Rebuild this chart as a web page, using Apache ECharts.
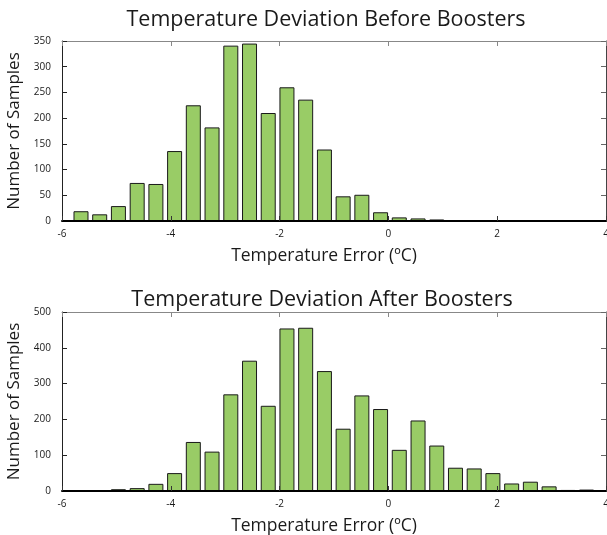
<!DOCTYPE html>
<html>
<head>
<meta charset="utf-8">
<script src="https://cdn.jsdelivr.net/npm/echarts@6/dist/echarts.min.js"></script>
<style>html,body{margin:0;padding:0;background:#fff}#c{width:607px;height:535px}</style>
</head>
<body>
<div id="c"></div>
<script>
var binCenters = [-5.651, -5.307, -4.963, -4.618, -4.274, -3.930, -3.586, -3.242, -2.897, -2.553,
  -2.209, -1.865, -1.521, -1.176, -0.832, -0.488, -0.144, 0.200, 0.545, 0.889,
  1.233, 1.577, 1.921, 2.266, 2.610, 2.954, 3.298, 3.642];
var beforeCounts = [19, 13, 29, 74, 72, 136, 225, 182, 341, 345,
  210, 260, 236, 139, 48, 51, 17, 7, 5, 3,
  0, 0, 0, 0, 0, 0, 0, 0];
var afterCounts = [1, 2, 5, 8, 20, 50, 137, 110, 270, 364,
  238, 454, 456, 335, 174, 267, 229, 115, 197, 127,
  65, 63, 50, 21, 26, 13, 3, 4];
var xTicks = [-6, -4, -2, 0, 2, 4];
var titles = ['Temperature Deviation Before Boosters', 'Temperature Deviation After Boosters'];
var xName = 'Temperature Error (ºC)';
var yName = 'Number of Samples';

var FONT = '"Open Sans", "DejaVu Sans", sans-serif';
function pairs(vals) { return binCenters.map(function (c, i) { return [c, vals[i]]; }); }

var grids = [
  { left: 62, right: 1, top: 41, height: 180, containLabel: false, outerBoundsMode: 'none' },
  { left: 62, right: 1, top: 312, height: 179, containLabel: false, outerBoundsMode: 'none' }
];
var yMax = [350, 500], yInt = [50, 100];
var xAxes = [], yAxes = [], series = [];
for (var g = 0; g < 2; g++) {
  xAxes.push({
    type: 'value', gridIndex: g, min: -6, max: 4, interval: 2, position: 'bottom',
    name: xName, nameLocation: 'middle', nameGap: 26,
    nameTextStyle: { fontFamily: FONT, fontSize: 17.5, color: '#1a1a1a', padding: [0, 20, 0, 0] },
    axisLine: { show: true, onZero: false, lineStyle: { color: '#000', width: 2 } },
    axisTick: { show: true, inside: true, length: 5, lineStyle: { color: '#333' } },
    axisLabel: { fontFamily: FONT, fontSize: 10, color: '#1a1a1a', margin: 8,
      formatter: function (v) { return xTicks.indexOf(v) >= 0 ? String(v) : ''; } },
    splitLine: { show: false }, z: 5
  });
  xAxes.push({
    type: 'value', gridIndex: g, min: -6, max: 4, interval: 2, position: 'top',
    axisLine: { show: true, onZero: false, lineStyle: { color: '#888', width: 1 } },
    axisTick: { show: true, inside: true, length: 5, lineStyle: { color: '#888' } },
    axisLabel: { show: false }, splitLine: { show: false }
  });
  yAxes.push({
    type: 'value', gridIndex: g, min: 0, max: yMax[g], interval: yInt[g], position: 'left',
    name: yName, nameLocation: 'middle', nameGap: 30, nameRotate: 90,
    nameTextStyle: { fontFamily: FONT, fontSize: 17, color: '#1a1a1a' },
    axisLine: { show: true, onZero: false, lineStyle: { color: '#222', width: 1 } },
    axisTick: { show: true, inside: true, length: 5, lineStyle: { color: '#222' } },
    axisLabel: { fontFamily: FONT, fontSize: 10, color: '#1a1a1a', margin: 11 },
    splitLine: { show: false }
  });
  yAxes.push({
    type: 'value', gridIndex: g, min: 0, max: yMax[g], interval: yInt[g], position: 'right',
    axisLine: { show: true, onZero: false, lineStyle: { color: '#444', width: 1 } },
    axisTick: { show: true, inside: true, length: 5, lineStyle: { color: '#666' } },
    axisLabel: { show: false }, splitLine: { show: false }
  });
  series.push({
    type: 'bar', xAxisIndex: g * 2, yAxisIndex: g * 2, barWidth: 15,
    data: pairs(g === 0 ? beforeCounts : afterCounts),
    itemStyle: { color: '#99cc66', borderColor: '#1a1a1a', borderWidth: 1 },
    silent: true, animation: false
  });
}

var chart = echarts.init(document.getElementById('c'));
chart.setOption({
  animation: false,
  title: [
    { text: titles[0], left: 321, top: 4, textAlign: 'center',
      textStyle: { fontFamily: FONT, fontSize: 21.5, fontWeight: 'normal', color: '#1a1a1a' } },
    { text: titles[1], left: 317, top: 284, textAlign: 'center',
      textStyle: { fontFamily: FONT, fontSize: 21.5, fontWeight: 'normal', color: '#1a1a1a' } }
  ],
  grid: grids,
  xAxis: xAxes,
  yAxis: yAxes,
  series: series
});
</script>
</body>
</html>
